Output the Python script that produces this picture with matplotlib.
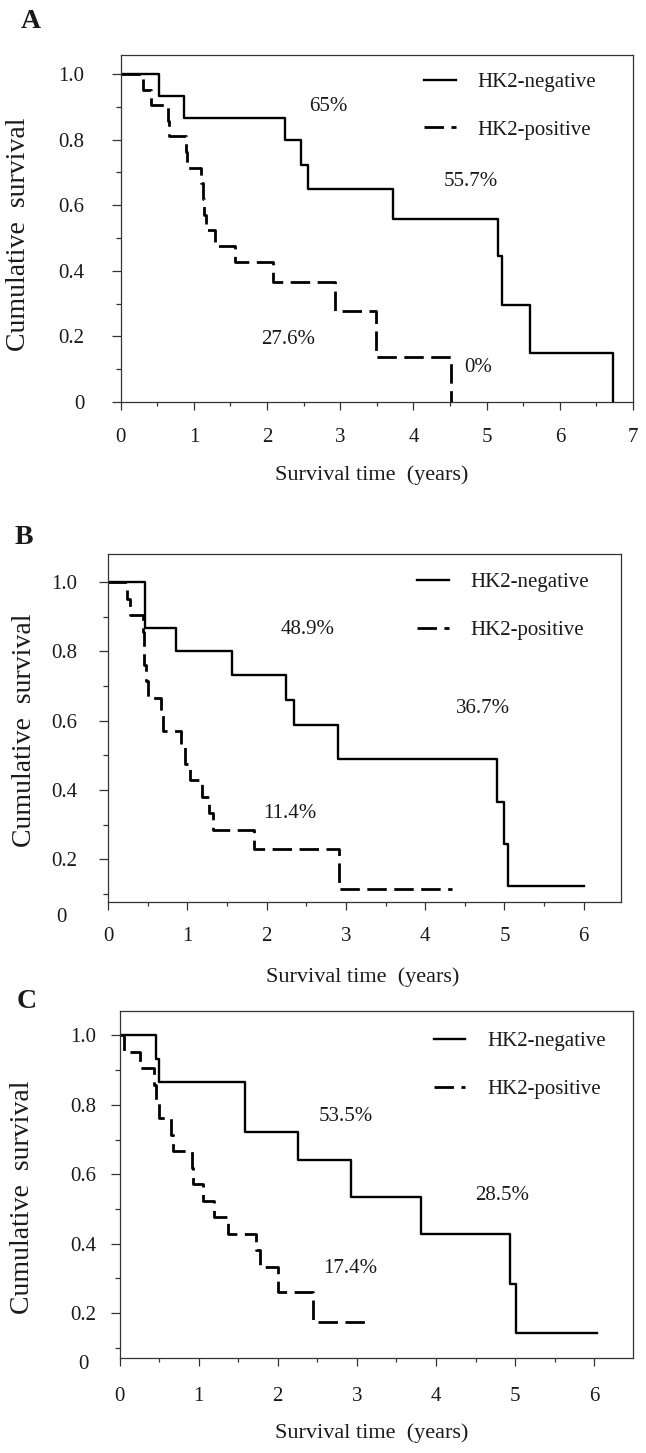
import matplotlib
matplotlib.use("Agg")
import matplotlib.pyplot as plt
from matplotlib.ticker import MultipleLocator
from matplotlib.transforms import ScaledTranslation

plt.rcParams["font.family"] = ["Liberation Serif", "DejaVu Serif"]

LEGEND = ["HK2-negative", "HK2-positive"]
XLABEL = "Survival time  (years)"
YLABEL = "Cumulative  survival"

# --- panel A: Kaplan-Meier steps (time in years, cumulative survival) ---
a_neg_t = [0, 0.52, 0.86, 2.25, 2.46, 2.56, 3.72, 5.15, 5.21, 5.59, 6.72]
a_neg_s = [1.0, 0.933, 0.867, 0.80, 0.722, 0.65, 0.557, 0.446, 0.297, 0.149, 0.0]
a_pos_t = [0, 0.30, 0.42, 0.64, 0.66, 0.89, 0.91, 1.10, 1.12, 1.14, 1.16, 1.29,
           1.56, 2.08, 2.93, 3.49, 4.52]
a_pos_s = [1.0, 0.952, 0.905, 0.857, 0.810, 0.762, 0.714, 0.667, 0.619, 0.571,
           0.524, 0.476, 0.426, 0.367, 0.276, 0.138, 0.0]
a_notes = ["65%", "55.7%", "27.6%", "0%"]
a_note_x = [2.83, 4.79, 2.29, 4.89]
a_note_y = [0.90, 0.672, 0.19, 0.104]

# --- panel B ---
b_neg_t = [0, 0.47, 0.86, 1.57, 2.25, 2.34, 2.90, 4.91, 4.99, 5.04, 6.00]
b_neg_s = [1.0, 0.867, 0.80, 0.733, 0.66, 0.587, 0.489, 0.367, 0.245, 0.122, 0.122]
b_pos_t = [0, 0.24, 0.28, 0.44, 0.45, 0.46, 0.48, 0.51, 0.67, 0.69, 0.92, 0.97,
           1.04, 1.18, 1.27, 1.32, 1.84, 2.91, 4.34]
b_pos_s = [1.0, 0.952, 0.905, 0.857, 0.810, 0.762, 0.714, 0.667, 0.619, 0.571,
           0.524, 0.476, 0.429, 0.381, 0.333, 0.286, 0.229, 0.114, 0.114]
b_notes = ["48.9%", "36.7%", "11.4%"]
b_note_x = [2.52, 4.73, 2.29]
b_note_y = [0.864, 0.635, 0.332]

# --- panel C ---
c_neg_t = [0, 0.465, 0.50, 1.58, 2.25, 2.92, 3.81, 4.94, 5.01, 6.03]
c_neg_s = [1.0, 0.933, 0.867, 0.722, 0.642, 0.535, 0.428, 0.285, 0.142, 0.142]
c_pos_t = [0, 0.06, 0.26, 0.43, 0.46, 0.50, 0.655, 0.68, 0.91, 0.93, 1.06, 1.20,
           1.37, 1.73, 1.77, 2.00, 2.44, 3.17]
c_pos_s = [1.0, 0.952, 0.905, 0.857, 0.810, 0.762, 0.714, 0.667, 0.619, 0.571,
           0.524, 0.476, 0.429, 0.381, 0.333, 0.262, 0.174, 0.174]
c_notes = ["53.5%", "28.5%", "17.4%"]
c_note_x = [2.86, 4.84, 2.92]
c_note_y = [0.766, 0.540, 0.33]

W, H = 646, 1453
INK = "#1a1a1a"


def _px_axes(fig, left, right, top, bottom):
    return fig.add_axes([left / W, 1 - bottom / H, (right - left) / W, (bottom - top) / H])


def _panel(ax, neg, pos, notes, xmax, ylim, cfg):
    ax.step(neg[0], neg[1], where="post", color="k", lw=1.7, label=LEGEND[0])
    ax.step(pos[0], pos[1], where="post", color="k", lw=2.0,
            linestyle=(0, (7, 2.7)), label=LEGEND[1])
    for txt, x, y in zip(*notes):
        ax.text(x, y, txt, ha="center", va="center", fontsize=15, color=INK)

    ax.set_xlim(0, xmax)
    ax.set_ylim(*ylim)
    ax.xaxis.set_major_locator(MultipleLocator(1))
    ax.xaxis.set_minor_locator(MultipleLocator(0.5))
    yt = [v / 10 for v in range(0 if ylim[0] <= 0 else 2, 11, 2)]
    ax.set_yticks(yt)
    ax.set_yticklabels(["0" if v == 0 else f"{v:.1f}" for v in yt])
    ax.yaxis.set_minor_locator(MultipleLocator(0.1))
    ax.tick_params(which="both", direction="out", width=0.9, colors="#333",
                   labelcolor=INK, labelsize=15)
    ax.tick_params(axis="y", which="major", length=6.5, pad=cfg["ypad"])
    ax.tick_params(axis="y", which="minor", length=3.4)
    ax.tick_params(axis="x", which="major", length=6, pad=cfg["xpad"])
    ax.tick_params(axis="x", which="minor", length=3)
    for s in ax.spines.values():
        s.set_linewidth(0.9)
        s.set_color("#333")

    if cfg["x0shift"]:
        lab = ax.get_xticklabels()[0]
        lab.set_transform(lab.get_transform()
                          + ScaledTranslation(cfg["x0shift"] / 100, 0, ax.figure.dpi_scale_trans))
    if cfg["zero"] is not None:
        ax.text(*cfg["zero"], "0", transform=ax.transAxes, ha="center", va="center",
                fontsize=15, color=INK)

    ax.set_xlabel(XLABEL, fontsize=16, color=INK)
    ax.xaxis.set_label_coords(*cfg["xl"])
    ax.xaxis.label.set_va("center")
    ax.set_ylabel(YLABEL, fontsize=20, color=INK)
    ax.yaxis.set_label_coords(*cfg["yl"])
    ax.yaxis.label.set_va("center")

    ax.legend(loc="upper left", bbox_to_anchor=cfg["leg"], frameon=False, fontsize=15,
              handlelength=1.5, handletextpad=1.05, labelspacing=1.35,
              borderpad=0, borderaxespad=0, labelcolor=INK)


fig = plt.figure(figsize=(W / 100, H / 100), dpi=100)

ax_a = _px_axes(fig, 120.7, 633, 55, 402)
_panel(ax_a, (a_neg_t, a_neg_s), (a_pos_t, a_pos_s), (a_notes, a_note_x, a_note_y),
       7, (0, 1.058),
       dict(ypad=19.5, xpad=13, x0shift=0, zero=None,
            xl=(0.49, -0.21), yl=(-0.2, 0.484), leg=(0.593, 0.95)))

ax_b = _px_axes(fig, 108, 621, 554, 901.7)
_panel(ax_b, (b_neg_t, b_neg_s), (b_pos_t, b_pos_s), (b_notes, b_note_x, b_note_y),
       6.47, (0.078, 1.081),
       dict(ypad=15.5, xpad=12, x0shift=8, zero=(-0.090, -0.046),
            xl=(0.497, -0.2166), yl=(-0.162, 0.494), leg=(0.603, 0.946)))

ax_c = _px_axes(fig, 119.5, 633, 1011, 1357.7)
_panel(ax_c, (c_neg_t, c_neg_s), (c_pos_t, c_pos_s), (c_notes, c_note_x, c_note_y),
       6.49, (0.072, 1.07),
       dict(ypad=10.5, xpad=15, x0shift=6, zero=(-0.071, -0.021),
            xl=(0.492, -0.217), yl=(-0.189, 0.463), leg=(0.612, 0.94)))

for letter, x, y in [("A", 31, 21), ("B", 24, 537), ("C", 27, 1002)]:
    fig.text(x / W, 1 - y / H, letter, ha="center", va="center", fontsize=20,
             fontweight="bold", color=INK)

fig.savefig("out.png", dpi=100)
